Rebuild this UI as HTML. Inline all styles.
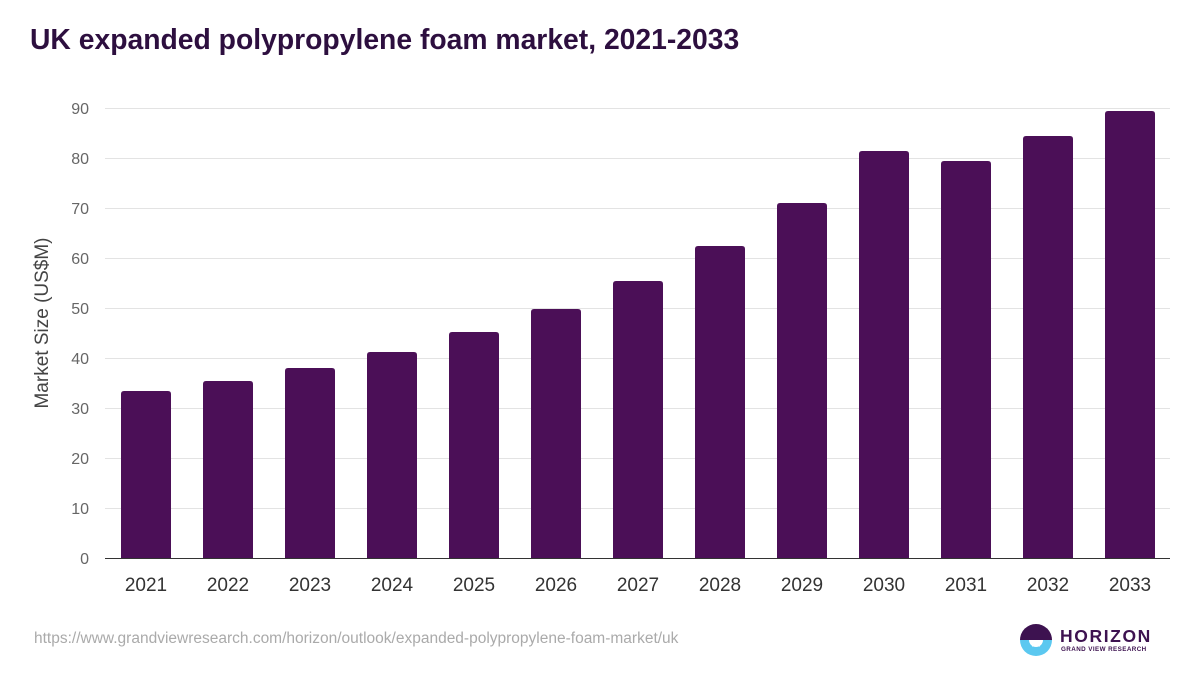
<!DOCTYPE html>
<html><head><meta charset="utf-8"><style>
body{margin:0;background:#fff;font-family:"Liberation Sans",sans-serif}
#wrap{position:relative;width:1200px;height:675px;overflow:hidden}
</style></head><body>
<div id="wrap">
<svg id="chart" width="1200" height="675">
<text x="30" y="49" font-size="28.3" font-weight="bold" fill="#2d0f3f">UK expanded polypropylene foam market, 2021-2033</text>
<text transform="translate(48,323) rotate(-90)" text-anchor="middle" font-size="19" fill="#444">Market Size (US$M)</text>
<g id="grid"></g><g id="bars"></g><g id="xlabels"></g>
<line x1="105" x2="1170" y1="558.5" y2="558.5" stroke="#333" stroke-width="1"/>
<text x="34" y="643" font-size="15.5" fill="#aaa">https://www.grandviewresearch.com/horizon/outlook/expanded-polypropylene-foam-market/uk</text>
<g>
<clipPath id="c"><circle cx="1036" cy="640" r="16"/></clipPath>
<g clip-path="url(#c)"><rect x="1020" y="624" width="32" height="16" fill="#3d1250"/><rect x="1020" y="640" width="32" height="16" fill="#5bc8f0"/></g>
<circle cx="1036" cy="640" r="7" fill="#fff"/><rect x="1028" y="632" width="16" height="8" fill="#3d1250"/>
<rect x="1030" y="642" width="12" height="1.5" fill="#fff"/><rect x="1032" y="645" width="8" height="1.5" fill="#fff"/>
<text x="1060" y="642" font-size="17.5" font-weight="bold" fill="#3d1250" letter-spacing="1.6">HORIZON</text>
<text x="1061" y="651" font-size="6.3" font-weight="bold" fill="#3d1250" letter-spacing="0.4">GRAND VIEW RESEARCH</text>
</g>
</svg>
</div>
<script>
const categories=["2021","2022","2023","2024","2025","2026","2027","2028","2029","2030","2031","2032","2033"];
const values=[33.4,35.4,38,41.2,45.2,49.8,55.4,62.4,71,81.4,79.4,84.4,89.4];
const yTicks=[0,10,20,30,40,50,60,70,80,90];
const NS="http://www.w3.org/2000/svg";
const y=v=>558-v*5;
const step=82,x0=105;
const x=i=>x0+step*i+step/2;
const grid=document.getElementById('grid');
yTicks.forEach(t=>{
 if(t>0){const l=document.createElementNS(NS,'line');
 l.setAttribute('x1',105);l.setAttribute('x2',1170);l.setAttribute('y1',y(t)+0.5);l.setAttribute('y2',y(t)+0.5);l.setAttribute('stroke','#e3e3e3');
 
 
 grid.appendChild(l);}
 const tx=document.createElementNS(NS,'text');
 tx.setAttribute('x',89);tx.setAttribute('y',y(t)+6);tx.setAttribute('text-anchor','end');tx.setAttribute('font-size','16');tx.setAttribute('fill','#666');
 tx.textContent=t;
 
 
 grid.appendChild(tx);
});
const bars=document.getElementById('bars'),xl=document.getElementById('xlabels');
categories.forEach((c,i)=>{
 const r=document.createElementNS(NS,'path');
 const bx=x(i)-25,by=y(values[i]),bw=50,rr=3;
 r.setAttribute('d',`M${bx},558V${by+rr}Q${bx},${by} ${bx+rr},${by}H${bx+bw-rr}Q${bx+bw},${by} ${bx+bw},${by+rr}V558Z`);
 r.setAttribute('fill','#4b0f57');
 
 
 bars.appendChild(r);
 const t=document.createElementNS(NS,'text');
 t.setAttribute('x',x(i));t.setAttribute('y',591);t.setAttribute('text-anchor','middle');t.setAttribute('font-size','19');t.setAttribute('fill','#333');
 t.textContent=c;
 
 
 xl.appendChild(t);
});
</script>
</body></html>
